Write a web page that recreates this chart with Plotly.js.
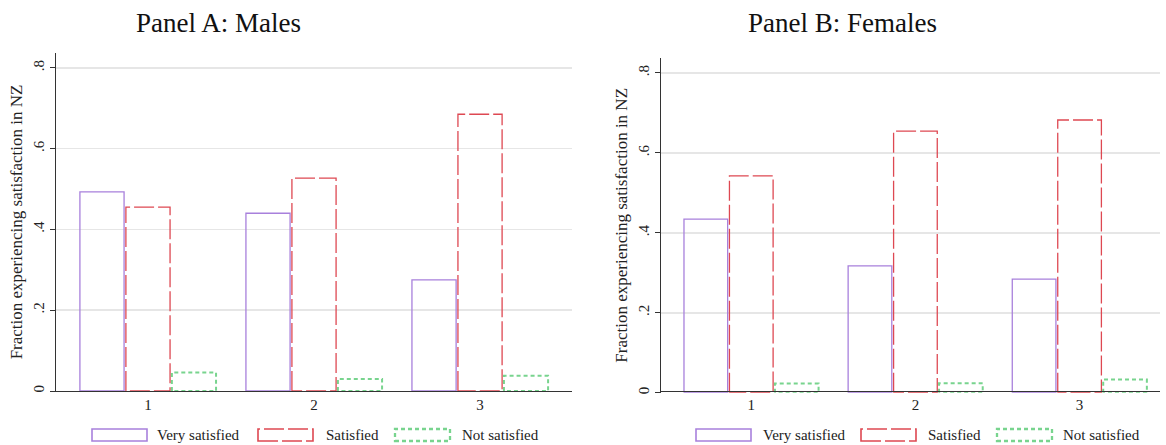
<!DOCTYPE html>
<html>
<head>
<meta charset="utf-8">
<script src="https://cdn.plot.ly/plotly-3.0.1.min.js"></script>
<style>
html, body { margin: 0; padding: 0; background: #fff; }
#chart { width: 1166px; height: 445px; }
</style>
</head>
<body>
<div id="chart"></div>
<script>
// ---- Data ----
var categories = [1, 2, 3];
var tickLabels = ["1", "2", "3"];
var seriesNames = ["Very satisfied", "Satisfied", "Not satisfied"];
var malesVery = [0.493, 0.440, 0.275];
var malesSat = [0.455, 0.527, 0.685];
var malesNot = [0.046, 0.030, 0.038];
var femalesVery = [0.434, 0.317, 0.284];
var femalesSat = [0.542, 0.654, 0.682];
var femalesNot = [0.023, 0.0235, 0.033];
var yTickVals = [0, 0.2, 0.4, 0.6, 0.8];
var yTickText = ["0", ".2", ".4", ".6", ".8"];

// ---- Styles ----
var W = 1166, H = 445;
var styles = [
  {color: "rgb(168,128,220)", width: 1.3, dash: "solid"},
  {color: "rgb(222,72,82)", width: 1.3, dash: "20px,4px"},
  {color: "rgb(120,212,142)", width: 2, dash: "4px,3px"}
];
var barW = 0.266, step = 0.277;
var offsets = [-step, 0, step];
var serif = "Liberation Serif, Times New Roman, serif";

function outline(vals, k, xa, ya, name) {
  var xs = [], ys = [];
  for (var i = 0; i < categories.length; i++) {
    var c = categories[i] + offsets[k];
    var x0 = c - barW / 2, x1 = c + barW / 2;
    xs.push(x0, x0, x1, x1, x0, null);
    ys.push(0, vals[i], vals[i], 0, 0, null);
  }
  return {
    type: "scatter", mode: "lines", x: xs, y: ys, xaxis: xa, yaxis: ya,
    name: name, showlegend: false, hoverinfo: "skip",
    line: {color: styles[k].color, width: styles[k].width, dash: styles[k].dash}
  };
}

var traces = [
  outline(malesVery, 0, "x", "y", seriesNames[0]),
  outline(malesSat, 1, "x", "y", seriesNames[1]),
  outline(malesNot, 2, "x", "y", seriesNames[2]),
  outline(femalesVery, 0, "x2", "y2", seriesNames[0]),
  outline(femalesSat, 1, "x2", "y2", seriesNames[1]),
  outline(femalesNot, 2, "x2", "y2", seriesNames[2])
];

function px(v) { return v / W; }
function py(v) { return (H - v) / H; }

function xaxis(dom, rng) {
  return {
    domain: dom, range: rng, tickvals: categories, ticktext: tickLabels,
    showgrid: false, zeroline: false, showline: true, linecolor: "#333", linewidth: 1.3,
    ticks: "", tickfont: {family: serif, size: 15, color: "#222"}, fixedrange: true
  };
}
function yaxis(dom, rng, anchor) {
  return {
    domain: dom, range: rng, anchor: anchor, tickvals: yTickVals, ticktext: yTickText,
    tickangle: -90, ticks: "outside", ticklen: 5, tickcolor: "#333", tickwidth: 1,
    showgrid: true, gridcolor: "#e6e6e6", gridwidth: 1.6, zeroline: false,
    showline: true, linecolor: "#333", linewidth: 1.3,
    tickfont: {family: serif, size: 15, color: "#222"},
    title: {text: "Fraction experiencing satisfaction in NZ", font: {family: serif, size: 17, color: "#222"}, standoff: 3},
    fixedrange: true
  };
}

var layout = {
  width: W, height: H,
  margin: {l: 0, r: 0, t: 0, b: 0},
  paper_bgcolor: "#fff", plot_bgcolor: "#fff",
  showlegend: false,
  xaxis: xaxis([px(56), px(572)], [0.446, 3.554]),
  yaxis: yaxis([py(391), py(53)], [0, 0.8366], "x"),
  xaxis2: xaxis([px(661), px(1160)], [0.45, 3.49]),
  yaxis2: yaxis([py(392.7), py(58)], [0, 0.837], "x2"),
  shapes: [],
  annotations: [
    {text: "Panel A: Males", xref: "paper", yref: "paper", x: px(218), y: py(23), xanchor: "center", yanchor: "middle", showarrow: false, font: {family: serif, size: 27, color: "#111"}},
    {text: "Panel B: Females", xref: "paper", yref: "paper", x: px(842), y: py(23), xanchor: "center", yanchor: "middle", showarrow: false, font: {family: serif, size: 27, color: "#111"}}
  ]
};

// custom legends (box outlines + labels)
var legendA = [92, 258, 395], legendAText = [155, 324, 460];
var legendB = [696, 861, 997], legendBText = [761, 926, 1061];
function addLegend(boxes, texts) {
  for (var k = 0; k < 3; k++) {
    layout.shapes.push({
      type: "rect", xref: "paper", yref: "paper",
      x0: px(boxes[k]), x1: px(boxes[k] + 55), y0: py(441), y1: py(429),
      line: {color: styles[k].color, width: styles[k].width + 0.3, dash: styles[k].dash},
      fillcolor: "rgba(0,0,0,0)"
    });
    layout.annotations.push({
      text: seriesNames[k], xref: "paper", yref: "paper", x: px(texts[k]), y: py(435),
      xanchor: "left", yanchor: "middle", showarrow: false,
      font: {family: serif, size: 15, color: "#222"}
    });
  }
}
addLegend(legendA, legendAText);
addLegend(legendB, legendBText);

Plotly.newPlot("chart", traces, layout, {staticPlot: true, displayModeBar: false});
</script>
</body>
</html>
